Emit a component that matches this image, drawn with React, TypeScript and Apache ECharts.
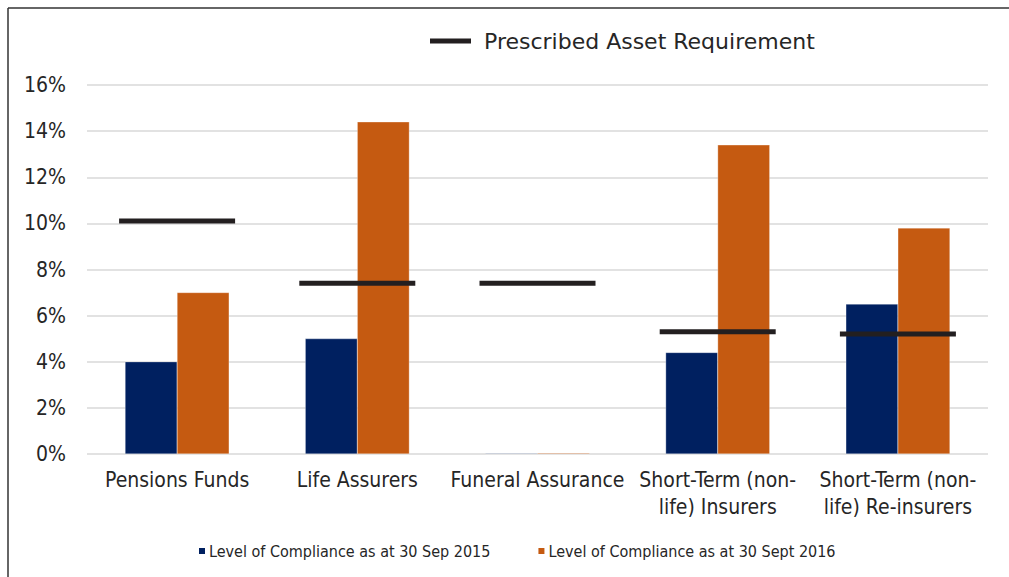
import React, { useEffect, useRef } from "react";
import * as echarts from "echarts";

const categories = [
  "Pensions Funds",
  "Life Assurers",
  "Funeral Assurance",
  "Short-Term (non-life) Insurers",
  "Short-Term (non-life) Re-insurers",
];
const compliance2015 = [4.0, 5.0, 0.03, 4.4, 6.5];
const compliance2016 = [7.0, 14.4, 0.04, 13.4, 9.8];
const prescribedRequirement = [10.1, 7.4, 7.4, 5.3, 5.2];
const yTicks = { min: 0, max: 16, interval: 2 };

const FONT_C = "'DejaVu Sans Condensed', 'DejaVu Sans', sans-serif";
const FONT = "'DejaVu Sans', sans-serif";
const TEXT = "#262626";

export default function App() {
  const ref = useRef<HTMLDivElement>(null);
  useEffect(() => {
    if (!ref.current) return;
    const chart = echarts.init(ref.current, undefined, { renderer: "svg" });
    chart.setOption({
      animation: false,
      backgroundColor: "#ffffff",
      textStyle: { fontFamily: FONT_C, color: TEXT },
      grid: { left: 87, right: 21, top: 85, bottom: 123 },
      legend: [
        {
          data: ["Prescribed Asset Requirement"],
          left: 430,
          top: 30,
          padding: 0,
          icon: "rect",
          itemWidth: 41,
          itemHeight: 5,
          itemGap: 13,
          textStyle: { fontFamily: FONT, fontSize: 22, color: TEXT, padding: [0, 0, 0, 8] },
        },
        {
          data: [
            "Level of Compliance as at 30 Sep 2015",
            "Level of Compliance as at 30 Sept 2016",
          ],
          left: 197,
          top: 543,
          padding: 0,
          icon: "rect",
          itemWidth: 8,
          itemHeight: 8,
          itemGap: 46,
          textStyle: { fontFamily: FONT_C, fontSize: 16, color: TEXT, padding: [0, 0, 0, -2] },
        },
      ],
      xAxis: {
        type: "category",
        data: categories,
        axisLine: { show: false },
        axisTick: { show: false },
        axisLabel: {
          interval: 0,
          margin: 12.5,
          fontFamily: FONT_C,
          fontSize: 21,
          lineHeight: 27,
          color: TEXT,
          formatter: (v: string) => v.replace("(non-life) ", "(non-\nlife) "),
        },
      },
      yAxis: {
        type: "value",
        min: yTicks.min,
        max: yTicks.max,
        interval: yTicks.interval,
        axisLine: { show: false },
        axisTick: { show: false },
        axisLabel: {
          margin: 21,
          fontFamily: FONT_C,
          fontSize: 21,
          color: TEXT,
          formatter: "{value}%",
        },
        splitLine: { lineStyle: { color: "#d9d9d9", width: 1.5 } },
      },
      series: [
        {
          name: "Level of Compliance as at 30 Sep 2015",
          type: "bar",
          data: compliance2015,
          barWidth: 52,
          barGap: "0%",
          itemStyle: { color: "#002060", borderColor: "#ffffff", borderWidth: 0.3 },
        },
        {
          name: "Level of Compliance as at 30 Sept 2016",
          type: "bar",
          data: compliance2016,
          barWidth: 52,
          barGap: "0%",
          itemStyle: { color: "#C55A11", borderColor: "#ffffff", borderWidth: 0.3 },
        },
        {
          name: "Prescribed Asset Requirement",
          type: "scatter",
          data: prescribedRequirement,
          symbol: "rect",
          symbolSize: [116, 5],
          itemStyle: { color: "#231f20", opacity: 1 },
          z: 5,
        },
      ],
      graphic: [
        {
          type: "line",
          shape: { x1: 8, y1: 8, x2: 8, y2: 577 },
          style: { stroke: "#333333", lineWidth: 1.5 },
        },
        {
          type: "line",
          shape: { x1: 8, y1: 8, x2: 1009, y2: 8 },
          style: { stroke: "#333333", lineWidth: 1.5 },
        },
      ],
    });
    return () => chart.dispose();
  }, []);
  return (
    <div
      ref={ref}
      style={{ position: "fixed", left: 0, top: 0, width: 1009, height: 577 }}
    />
  );
}
